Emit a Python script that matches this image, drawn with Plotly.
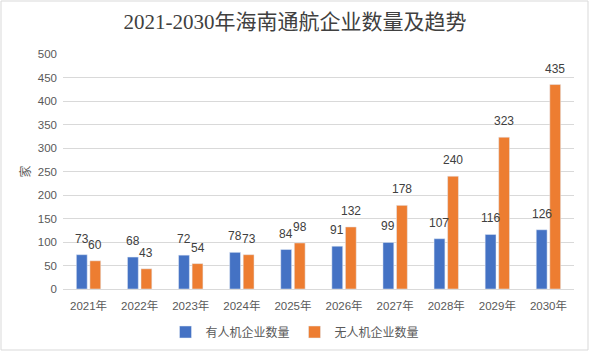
import plotly.graph_objects as go

years = ["2021年", "2022年", "2023年", "2024年", "2025年", "2026年", "2027年", "2028年", "2029年", "2030年"]
manned = [73, 68, 72, 78, 84, 91, 99, 107, 116, 126]
unmanned = [60, 43, 54, 73, 98, 132, 178, 240, 323, 435]
tick_vals = [0, 50, 100, 150, 200, 250, 300, 350, 400, 450, 500]

W, H = 590, 352
L, R, T, B = 63, 16, 54, 63
pw, ph = W - L - R, H - T - B

font = "Liberation Sans, Noto Sans CJK SC, sans-serif"
lab_col = "#404040"
tick_col = "#595959"

fig = go.Figure()
fig.add_trace(go.Bar(x=years, y=manned, name="有人机企业数量", marker_color="#4472C4"))
fig.add_trace(go.Bar(x=years, y=unmanned, name="无人机企业数量", marker_color="#ED7D31"))

annotations = []
for series, dx in ((manned, -6.8), (unmanned, 6.8)):
    for yr, v in zip(years, series):
        annotations.append(dict(x=yr, y=v, xref="x", yref="y", text=str(v), showarrow=False,
                                xanchor="center", yanchor="bottom", xshift=dx, yshift=7,
                                font=dict(size=12, color=lab_col, family=font)))

fig.update_layout(
    width=W, height=H,
    margin=dict(l=L, r=R, t=T, b=B),
    paper_bgcolor="white", plot_bgcolor="white",
    font=dict(family=font, size=11, color=tick_col),
    title=dict(text="2021-2030年海南通航企业数量及趋势", x=0.5, xanchor="center", y=1 - 22 / H, yanchor="middle",
               font=dict(family="Liberation Serif, Noto Sans CJK SC, serif", size=21, color="#404040")),
    barmode="group", bargap=0.47, bargroupgap=0.2,
    showlegend=True,
    legend=dict(orientation="h", xref="container", yref="container", x=0.5, xanchor="center",
                y=1 - 332 / H, yanchor="middle",
                font=dict(size=12, color=tick_col), itemwidth=30, tracegroupgap=0),
    xaxis=dict(showgrid=False, showline=True, linecolor="#D9D9D9", ticks="", ticklabelstandoff=6,
               automargin=False, tickfont=dict(size=11.5, color=tick_col)),
    yaxis=dict(range=[0, 500], tickvals=tick_vals, showgrid=True, gridcolor="#D9D9D9", zeroline=False,
               showline=False, ticks="", ticklabelstandoff=5, automargin=False,
               tickfont=dict(size=11.5, color=tick_col),
               title=dict(text="家", font=dict(size=12, color=tick_col), standoff=4)),
    annotations=annotations,
    shapes=[dict(type="rect", xref="paper", yref="paper",
                 x0=-(L - 1) / pw, x1=1 + (R - 2) / pw, y0=-(B - 2) / ph, y1=1 + (T - 1) / ph,
                 line=dict(color="#D9D9D9", width=1), fillcolor="rgba(0,0,0,0)", layer="below")],
)

fig.write_html("out.html")
